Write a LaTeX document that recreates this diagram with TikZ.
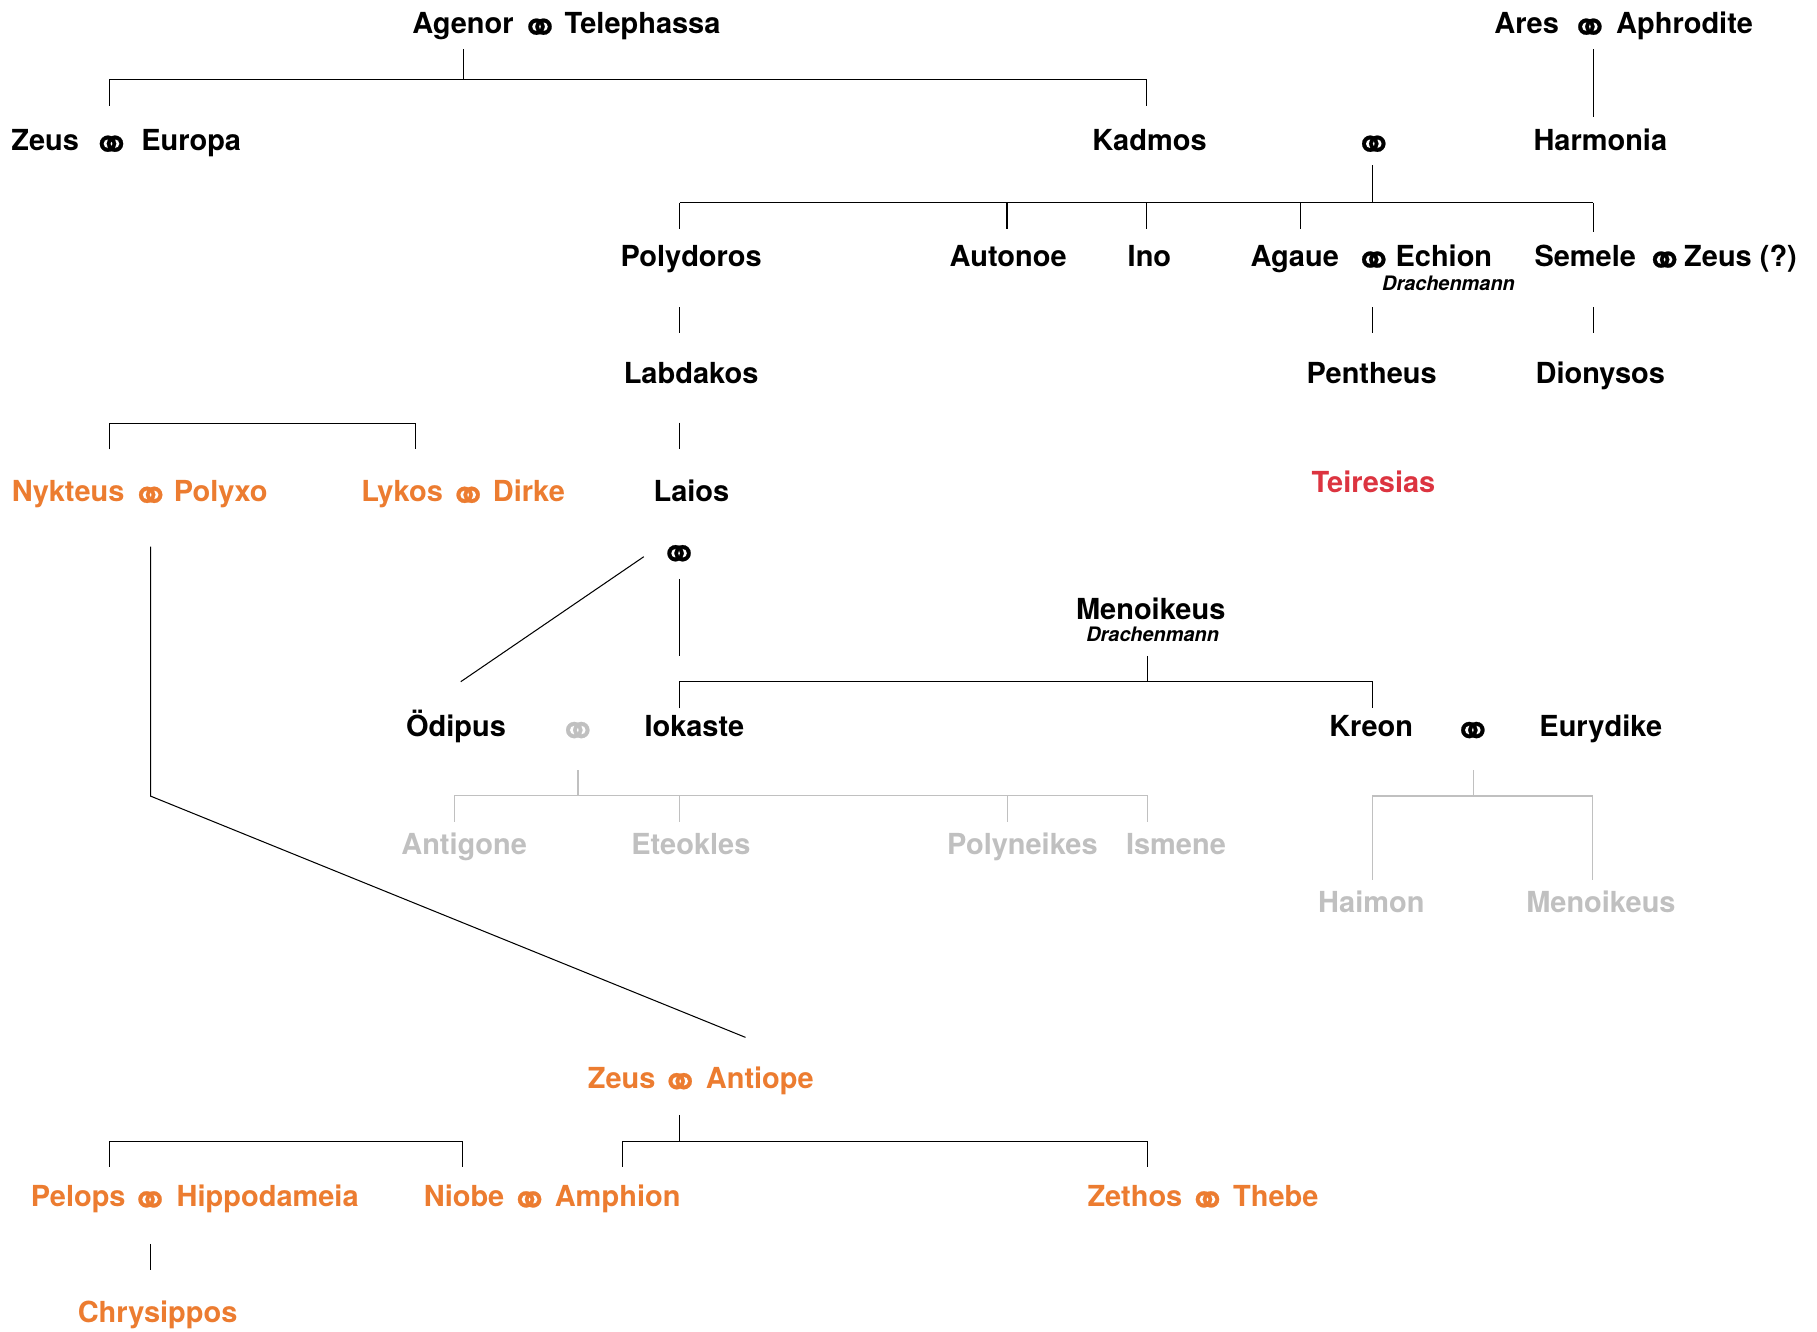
\documentclass[tikz,border=0pt]{standalone}
\usepackage{fontspec}
\setmainfont{TeX Gyre Heros}
\newfontfamily\symfont[FakeBold=0.45]{DejaVu Sans}
\definecolor{orng}{RGB}{236,124,48}
\definecolor{redt}{RGB}{220,52,64}
\definecolor{grayt}{RGB}{192,192,192}
\tikzset{
  nm/.style={anchor=base, inner sep=0pt, font=\fontsize{12.5}{14}\selectfont\bfseries},
  sub/.style={anchor=base, inner sep=0pt, font=\fontsize{8.6}{10}\selectfont\bfseries\itshape},
  mar/.style={anchor=center, inner sep=0pt, yshift=-2.5pt, font=\fontsize{20.5}{22}\symfont},
  ln/.style={line width=0.45pt, draw=black},
  gln/.style={line width=0.45pt, draw=grayt},
}
\begin{document}
\begin{tikzpicture}[x=0.5pt, y=-0.5pt]
\fill[white] (0,0) rectangle (1568,1149);
\useasboundingbox (0,0) rectangle (1568,1149);

% Row 1
\node[nm] (agenor) at (399.5,29) {Agenor};
\node[mar] (m1) at (466,22) {⚭};
\node[nm] (telephassa) at (554.5,29) {Telephassa};
\node[nm] (ares) at (1317.4,29) {Ares};
\node[mar] (m2) at (1372,22) {⚭};
\node[nm] (aphrodite) at (1453.7,29) {Aphrodite};

% Row 2
\node[nm] (zeusA) at (39,130) {Zeus};
\node[mar] (m3) at (96.2,123) {⚭};
\node[nm] (europa) at (165,130) {Europa};
\node[nm] (kadmos) at (992,130) {Kadmos};
\node[mar] (m4) at (1185.5,123) {⚭};
\node[nm] (harmonia) at (1381,130) {Harmonia};

% Row 3
\node[nm] (polydoros) at (596.4,230) {Polydoros};
\node[nm] (autonoe) at (870,230) {Autonoe};
\node[nm] (ino) at (991.9,230) {Ino};
\node[nm] (agaue) at (1117.3,230) {Agaue};
\node[mar] (m5) at (1185.5,223) {⚭};
\node[nm] (echion) at (1246,230) {Echion};
\node[sub] (drachA) at (1250,251) {Drachenmann};
\node[nm] (semele) at (1368,230) {Semele};
\node[mar] (m6) at (1436.5,223) {⚭};
\node[nm] (zeusB) at (1502,230) {Zeus (?)};

% Row 4
\node[nm] (labdakos) at (596.4,331) {Labdakos};
\node[nm] (pentheus) at (1183.7,331) {Pentheus};
\node[nm] (dionysos) at (1381,331) {Dionysos};

% Row 5
\node[nm, text=orng] (nykteus) at (58.8,433) {Nykteus};
\node[mar, text=orng] (m7) at (130,426) {⚭};
\node[nm, text=orng] (polyxo) at (190.5,433) {Polyxo};
\node[nm, text=orng] (lykos) at (347,433) {Lykos};
\node[mar, text=orng] (m8) at (404,426) {⚭};
\node[nm, text=orng] (dirke) at (456.4,433) {Dirke};
\node[nm] (laios) at (596.7,433) {Laios};
\node[nm, text=redt] (teiresias) at (1185.2,425) {Teiresias};
\node[mar] (m9) at (586,476.4) {⚭};

% Menoikeus
\node[nm] (menoikeus) at (993,534.5) {Menoikeus};
\node[sub] (drachB) at (994.7,553.5) {Drachenmann};

% Row 6
\node[nm] (oedipus) at (393.5,636) {Ödipus};
\node[mar, text=grayt] (m10) at (498.6,629) {⚭};
\node[nm] (iokaste) at (599.2,636) {Iokaste};
\node[nm] (kreon) at (1183.3,636) {Kreon};
\node[mar] (m11) at (1271,629) {⚭};
\node[nm] (eurydike) at (1381.4,636) {Eurydike};

% Row 7
\node[nm, text=grayt] (antigone) at (400.5,737) {Antigone};
\node[nm, text=grayt] (eteokles) at (596.2,737) {Eteokles};
\node[nm, text=grayt] (polyneikes) at (882.3,737) {Polyneikes};
\node[nm, text=grayt] (ismene) at (1014.8,737) {Ismene};
\node[nm, text=grayt] (haimon) at (1183.4,787.3) {Haimon};
\node[nm, text=grayt] (menoikeusB) at (1381.5,787.3) {Menoikeus};

% Row 8
\node[nm, text=orng] (zeusC) at (536.5,939) {Zeus};
\node[mar, text=orng] (m12) at (587,932) {⚭};
\node[nm, text=orng] (antiope) at (655.7,939) {Antiope};

% Row 9
\node[nm, text=orng] (pelops) at (67.5,1041) {Pelops};
\node[mar, text=orng] (m13) at (129.5,1034) {⚭};
\node[nm, text=orng] (hippodameia) at (231,1041) {Hippodameia};
\node[nm, text=orng] (niobe) at (400.5,1041) {Niobe};
\node[mar, text=orng] (m14) at (457,1034) {⚭};
\node[nm, text=orng] (amphion) at (533,1041) {Amphion};
\node[nm, text=orng] (zethos) at (979.4,1041) {Zethos};
\node[mar, text=orng] (m15) at (1042,1034) {⚭};
\node[nm, text=orng] (thebe) at (1101,1041) {Thebe};

% Row 10
\node[nm, text=orng] (chrysippos) at (136,1141.5) {Chrysippos};

% ---- connectors (black)
\coordinate (c1a) at (399.8,42.6);
\coordinate (c1b) at (399.8,68.2);
\draw[ln] (c1a) -- (c1b);
\draw[ln] (94.7,91.2) -- (94.7,68.2) -- (989.7,68.2) -- (989.7,91.2);
\draw[ln] (1374.7,42.6) -- (1374.7,101);
\draw[ln] (1184,142.4) -- (1184,175);
\draw[ln] (586.5,175) -- (1374.7,175);
\foreach \x in {586.5,869,989.7,1122.3} \draw[ln] (\x,175) -- (\x,198);
\draw[ln] (1374.7,175) -- (1374.7,200.5);
\draw[ln] (586.5,265) -- (586.5,287.7);
\draw[ln] (1184,265) -- (1184,287.7);
\draw[ln] (1374.7,265) -- (1374.7,287.7);
\draw[ln] (586.5,364.7) -- (586.5,387.7);
\draw[ln] (94.7,387.7) -- (94.7,365.3) -- (358.8,365.3) -- (358.8,387.7);
\draw[ln] (586.5,499.6) -- (586.5,566);
\draw[ln] (555.6,480.4) -- (397.6,588.3);
\draw[ln] (129.9,471.8) -- (129.9,687) -- (643.3,895.2);
\draw[ln] (990.3,566) -- (990.3,588.3);
\draw[ln] (586.5,611.3) -- (586.5,588.3) -- (1184.2,588.3) -- (1184.2,610.7);
\draw[ln] (586.4,962) -- (586.4,985.2);
\draw[ln] (537,1006.8) -- (537,985.2) -- (990,985.2) -- (990,1006.8);
\draw[ln] (94.5,1006.8) -- (94.5,985.2) -- (399,985.2) -- (399,1006.8);
\draw[ln] (129.5,1073.5) -- (129.5,1096);

% ---- connectors (gray)
\draw[gln] (498.8,664.5) -- (498.8,686.6);
\draw[gln] (392.3,709) -- (392.3,686.6) -- (990.3,686.6) -- (990.3,709);
\foreach \x in {586.6,869.3} \draw[gln] (\x,686.6) -- (\x,709);
\draw[gln] (1271.6,664.5) -- (1271.6,686.9);
\draw[gln] (1184.2,759.4) -- (1184.2,686.9) -- (1374.6,686.9) -- (1374.6,759.4);
\end{tikzpicture}
\end{document}
